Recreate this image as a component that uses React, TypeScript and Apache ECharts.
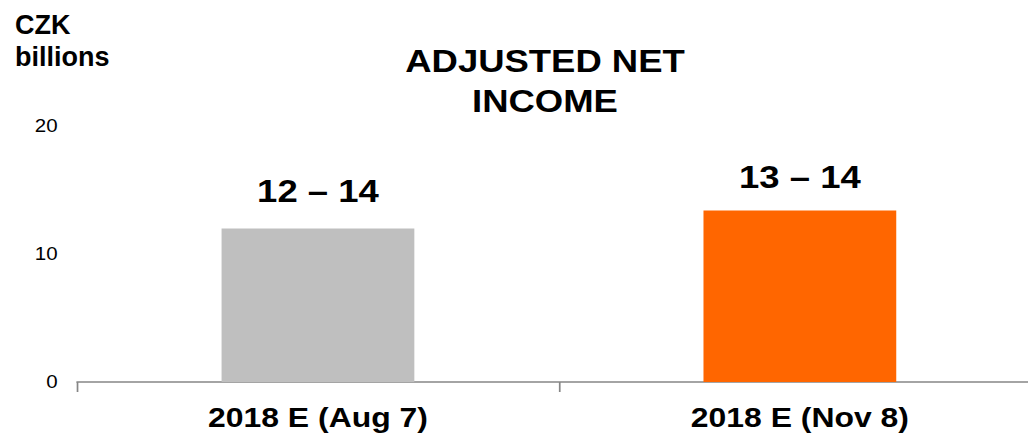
import React, { useEffect, useRef } from "react";
import * as echarts from "echarts";

const categories = ["2018 E (Aug 7)", "2018 E (Nov 8)"];
const barValues = [12, 13.4];
const rangeLabels = ["12 – 14", "13 – 14"];
const barColors = ["#BFBFBF", "#FF6600"];
const labelGaps = [22, 18];
const titleLines = ["ADJUSTED NET", "INCOME"];
const unitLines = ["CZK", "billions"];

// the reference chart is drawn horizontally stretched
const SX = 1.14;
const INNER_W = 914;

export default function App() {
  const ref = useRef<HTMLDivElement>(null);
  useEffect(() => {
    if (!ref.current) return;
    const chart = echarts.init(ref.current, null, { renderer: "svg" });
    const font = '"Liberation Sans", Arial, sans-serif';
    chart.setOption({
      animation: false,
      backgroundColor: "#ffffff",
      textStyle: { fontFamily: font },
      graphic: [
        {
          type: "text",
          x: 15 / SX,
          y: 9,
          scaleX: 1 / SX,
          style: {
            text: unitLines.join("\n"),
            font: `bold 27px ${font}`,
            lineHeight: 32,
            fill: "#000",
            textAlign: "left",
            textVerticalAlign: "top",
          },
        },
        {
          type: "text",
          x: 545 / SX,
          y: 81,
          style: {
            text: titleLines.join("\n"),
            font: `bold 32px ${font}`,
            lineHeight: 40,
            fill: "#000",
            textAlign: "center",
            textVerticalAlign: "middle",
          },
        },
      ],
      grid: { left: 77 / SX, right: 1, top: 126, bottom: 51, containLabel: false },
      xAxis: {
        type: "category",
        data: categories,
        boundaryGap: true,
        axisLine: { show: true, lineStyle: { color: "#868686", width: 1.5 } },
        axisTick: { show: true, length: 10, lineStyle: { color: "#868686", width: 1.5 } },
        axisLabel: {
          margin: 21,
          color: "#000",
          fontFamily: font,
          fontWeight: "bold",
          fontSize: 28,
        },
      },
      yAxis: {
        type: "value",
        min: 0,
        max: 20,
        interval: 10,
        axisLine: { show: false },
        axisTick: { show: false },
        splitLine: { show: false },
        axisLabel: {
          margin: 17,
          color: "#000",
          fontFamily: font,
          fontSize: 18,
        },
      },
      series: [
        {
          type: "bar",
          barWidth: "40%",
          data: barValues.map((v, i) => ({
            value: v,
            itemStyle: { color: barColors[i] },
            label: {
              show: true,
              position: "top",
              distance: labelGaps[i],
              formatter: rangeLabels[i],
              color: "#000",
              fontFamily: font,
              fontWeight: "bold",
              fontSize: 32,
            },
          })),
        },
      ],
    });
    return () => chart.dispose();
  }, []);
  return (
    <div
      style={{
        position: "absolute",
        left: 0,
        top: 0,
        width: 1028,
        height: 433,
        overflow: "hidden",
        background: "#fff",
      }}
    >
      <div
        ref={ref}
        style={{
          width: INNER_W,
          height: 433,
          transform: `scaleX(${SX})`,
          transformOrigin: "0 0",
        }}
      />
    </div>
  );
}
